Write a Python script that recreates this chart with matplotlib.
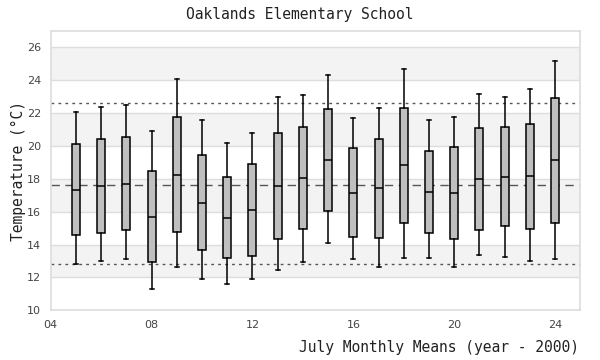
import matplotlib
matplotlib.use("Agg")
import matplotlib.pyplot as plt

# July monthly means, years since 2000
years = [5, 6, 7, 8, 9, 10, 11, 12, 13, 14, 15, 16, 17, 18, 19, 20, 21, 22, 23, 24]
whisk_lo = [12.79, 12.99, 13.09, 11.27, 12.61, 11.88, 11.58, 11.88, 12.48, 12.91,
            14.12, 13.09, 12.61, 13.21, 13.21, 12.61, 13.39, 13.27, 12.97, 13.09]
q1 = [14.55, 14.68, 14.91, 12.91, 14.73, 13.64, 13.15, 13.33, 14.36, 14.97,
      16.06, 14.48, 14.42, 15.33, 14.67, 14.36, 14.91, 15.15, 14.97, 15.33]
med = [17.33, 17.53, 17.70, 15.70, 18.24, 16.55, 15.64, 16.12, 17.58, 18.06,
       19.15, 17.15, 17.45, 18.85, 17.21, 17.15, 18.00, 18.12, 18.18, 19.15]
q3 = [20.12, 20.42, 20.55, 18.48, 21.76, 19.45, 18.12, 18.91, 20.79, 21.15,
      22.24, 19.88, 20.42, 22.30, 19.70, 19.94, 21.09, 21.15, 21.33, 22.91]
whisk_hi = [22.06, 22.36, 22.48, 20.91, 24.06, 21.58, 20.18, 20.79, 22.97, 23.09,
            24.30, 21.70, 22.30, 24.67, 21.58, 21.76, 23.15, 22.97, 23.45, 25.15]

overall_mean = 17.6
upper_limit = 22.6
lower_limit = 12.8

mono = "DejaVu Sans Mono"

fig = plt.figure(figsize=(6, 3.6), dpi=100)
ax = fig.add_axes([0.0845, 0.138, 0.8827, 0.777])

# alternating background bands
for lo in [12, 16, 20, 24]:
    ax.axhspan(lo, lo + 2, color="#f3f3f3", zorder=0, lw=0)
ax.yaxis.grid(True, color="#dddddd", lw=1, zorder=0.5)
ax.set_axisbelow(True)

stats = []
for i in range(len(years)):
    stats.append({"whislo": whisk_lo[i], "q1": q1[i], "med": med[i],
                  "q3": q3[i], "whishi": whisk_hi[i], "fliers": []})

ax.bxp(stats, positions=years, widths=0.32, patch_artist=True, showfliers=False,
       boxprops=dict(facecolor="#bfbfbf", edgecolor="black", lw=1.1),
       medianprops=dict(color="black", lw=1.1),
       whiskerprops=dict(color="black", lw=1.1),
       capprops=dict(color="black", lw=1.1), zorder=3)

ax.axhline(overall_mean, color="#555555", ls=(0, (6, 4)), lw=1, zorder=2)
ax.axhline(upper_limit, color="#555555", ls=(0, (2, 3)), lw=1, zorder=2)
ax.axhline(lower_limit, color="#555555", ls=(0, (2, 3)), lw=1, zorder=2)

ax.set_xlim(4, 25)
ax.set_ylim(10, 27)
ax.set_xticks([4, 8, 12, 16, 20, 24])
ax.set_xticklabels(["%02d" % t for t in [4, 8, 12, 16, 20, 24]])
ax.set_yticks(range(10, 27, 2))
ax.tick_params(length=0, labelsize=8, colors="#444444", pad=7)

for s in ax.spines.values():
    s.set_color("#dddddd")
    s.set_linewidth(1.2)

fig.text(0.5, 0.96, "Oaklands Elementary School", ha="center", va="center",
         family=mono, fontsize=10.5, color="#222222")
fig.text(0.031, 0.525, "Temperature (\u00b0C)", ha="center", va="center", rotation=90,
         family=mono, fontsize=10.5, color="#222222")
fig.text(0.965, 0.035, "July Monthly Means (year - 2000)", ha="right", va="center",
         family=mono, fontsize=10.5, color="#222222")

fig.savefig("out.png", dpi=100)
